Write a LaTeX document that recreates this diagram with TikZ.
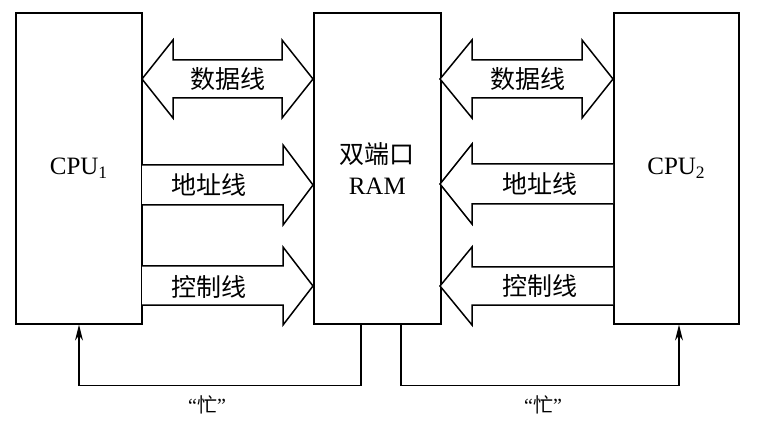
\documentclass[tikz,border=0pt]{standalone}
\usepackage{fontspec}
\setmainfont{Liberation Serif}
\newfontfamily\cjk{Noto Sans CJK SC}
\usetikzlibrary{arrows.meta,calc}
\begin{document}
\begin{tikzpicture}[x=1pt,y=-1pt,
  unit/.style={draw,line width=1.6pt,minimum width=126pt,minimum height=311pt,anchor=north west,inner sep=0pt,align=center,font=\fontsize{25}{30}\selectfont},
  bus/.style={draw,line width=1.5pt,fill=white,line join=miter},
  buslabel/.style={font=\cjk\fontsize{25}{27}\selectfont,inner sep=0pt},
  busy/.style={line width=1.3pt,-{Stealth[length=16pt,width=8pt]}},
  busylabel/.style={font=\fontsize{20}{22}\selectfont,inner sep=0pt}]
\useasboundingbox (0,0) rectangle (764,433);

% processors and the shared memory
\node[unit] (cpu1) at (15,12) {CPU\textsubscript{1}};
\node[unit,minimum width=127pt] (ram) at (313,12) {{\cjk\fontsize{25}{27}\selectfont 双端口}\\[1pt]RAM};
\node[unit,minimum width=125pt] (cpu2) at (613,12) {CPU\textsubscript{2}};

% data buses (bidirectional)
\draw[bus] (142,79) -- (173,40) -- (173,60) -- (282,60) -- (282,40) -- (313,79)
  -- (282,118) -- (282,98) -- (173,98) -- (173,118) -- cycle;
\draw[bus] (440,79) -- (472,40) -- (472,60) -- (582,60) -- (582,40) -- (613,79)
  -- (582,118) -- (582,98) -- (472,98) -- (472,118) -- cycle;

% address and control buses, CPU1 -> RAM
\draw[bus] (142,165) -- (283,165) -- (283,145) -- (313,185) -- (283,225) -- (283,205) -- (142,205);
\draw[bus] (142,266) -- (283,266) -- (283,247) -- (313,286) -- (283,325) -- (283,305) -- (142,305);

% address and control buses, CPU2 -> RAM
\draw[bus] (613,164) -- (472,164) -- (472,144) -- (440,184) -- (472,224) -- (472,204) -- (613,204);
\draw[bus] (613,267) -- (472,267) -- (472,247) -- (440,286) -- (472,325) -- (472,305) -- (613,305);

% bus labels
\node[buslabel] (d1) at (228,79) {数据线};
\node[buslabel] (d2) at (528,79) {数据线};
\node[buslabel] (a1) at (209,185) {地址线};
\node[buslabel] (a2) at (540,184) {地址线};
\node[buslabel] (c1) at (209,287) {控制线};
\node[buslabel] (c2) at (540,286) {控制线};

% busy signals
\draw[busy] ($(ram.south west)+(48,0)$) -- ++(0,61) -| ($(cpu1.south west)+(64,0)$);
\draw[busy] ($(ram.south west)+(88,0)$) -- ++(0,61) -| ($(cpu2.south west)+(66,0)$);
\node[busylabel] (b1) at (207,405) {“{\cjk 忙}”};
\node[busylabel] (b2) at (543,405) {“{\cjk 忙}”};
\end{tikzpicture}
\end{document}
